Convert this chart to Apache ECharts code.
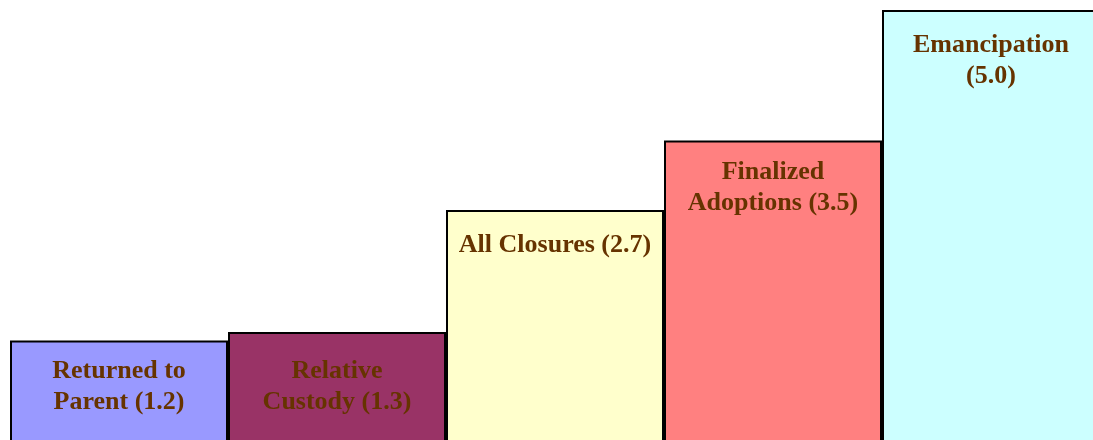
<!DOCTYPE html>
<html>
<head>
<meta charset="utf-8">
<script src="https://cdn.jsdelivr.net/npm/echarts@6/dist/echarts.min.js"></script>
<style>
  html, body { margin: 0; padding: 0; background: #fff; }
  #chart { width: 1093px; height: 440px; }
</style>
</head>
<body>
<div id="chart"></div>
<script>
// 类别名称（含换行）
const categories = ['Returned to\nParent', 'Relative\nCustody', 'All Closures', 'Finalized\nAdoptions', 'Emancipation\n'];
const values = [1.2, 1.3, 2.7, 3.5, 5.0];
const colorList = ['#9999FF', '#993366', '#FFFFCC', '#FF8080', '#CCFFFF'];
// 标签距柱顶的距离
const labelDistance = [15, 24, 20, 16, 20];

const chart = echarts.init(document.getElementById('chart'), null, { renderer: 'canvas' });

const seriesData = values.map((v, i) => ({
  value: v,
  itemStyle: { color: colorList[i] },
  label: { distance: labelDistance[i] }
}));

const option = {
  animation: false,
  backgroundColor: '#fff',
  grid: {
    left: 10,
    top: 10,
    width: 1090,
    height: 435,
    outerBoundsMode: 'none',
    containLabel: false
  },
  xAxis: {
    type: 'category',
    data: categories,
    show: false
  },
  yAxis: {
    type: 'value',
    min: 0,
    max: 5,
    show: false
  },
  series: [
    {
      type: 'bar',
      data: seriesData,
      barCategoryGap: '0%',
      itemStyle: {
        borderColor: '#000',
        borderWidth: 2
      },
      label: {
        show: true,
        position: 'insideTop',
        distance: 17,
        color: '#663300',
        fontFamily: "'Liberation Serif', 'Times New Roman', serif",
        fontWeight: 'bold',
        fontSize: 26,
        lineHeight: 31,
        align: 'center',
        formatter: function(p) {
          const name = p.name;
          const val = '(' + p.value.toFixed(1) + ')';
          // 以换行结尾的名称，数值放在下一行
          return name.endsWith('\n') ? name + val : name + ' ' + val;
        }
      }
    }
  ]
};

chart.setOption(option);
</script>
</body>
</html>
